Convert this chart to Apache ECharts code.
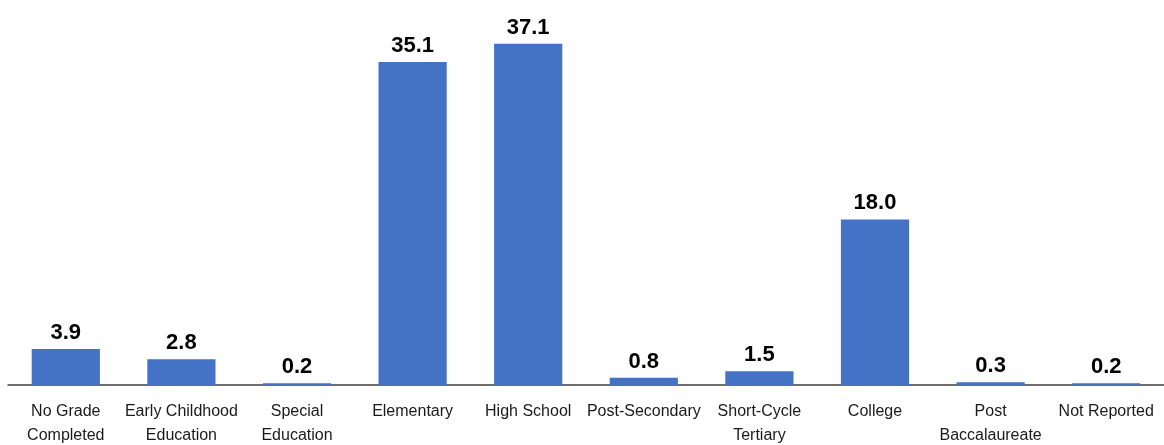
<!DOCTYPE html>
<html>
<head>
<meta charset="utf-8">
<script src="https://cdn.jsdelivr.net/npm/echarts@6/dist/echarts.min.js"></script>
<style>
  html, body { margin: 0; padding: 0; background: #fff; }
  #chart { width: 1164px; height: 445px; }
</style>
</head>
<body>
<div id="chart"></div>
<script>
// categories and values
const categories = ['No Grade\nCompleted', 'Early Childhood\nEducation', 'Special\nEducation', 'Elementary',
  'High School', 'Post-Secondary', 'Short-Cycle\nTertiary', 'College', 'Post\nBaccalaureate', 'Not Reported'];
const shares = [3.9, 2.8, 0.2, 35.1, 37.1, 0.8, 1.5, 18.0, 0.3, 0.2];

const font = '"Liberation Sans Narrow", "Arial Narrow", "Liberation Sans", Arial, sans-serif';

let myChart = echarts.init(document.getElementById('chart'));
myChart.setOption({
  animation: false,
  grid: { left: 8, right: 0, top: 17, bottom: 60, outerBoundsMode: 'none' },
  xAxis: {
    type: 'category',
    data: categories,
    axisLine: { lineStyle: { color: '#404040', width: 1.5 } },
    axisTick: { show: false },
    axisLabel: {
      interval: 0,
      color: '#1a1a1a',
      fontFamily: font,
      fontSize: 16,
      lineHeight: 24,
      margin: 15
    }
  },
  yAxis: {
    type: 'value',
    min: 0,
    max: 40,
    show: false
  },
  series: [{
    type: 'bar',
    data: shares,
    barWidth: '59%',
    itemStyle: { color: '#4472C4' },
    label: {
      show: true,
      position: 'top',
      distance: 5,
      formatter: p => p.value.toFixed(1),
      color: '#000',
      fontFamily: font,
      fontWeight: 'bold',
      fontSize: 22
    }
  }]
});
</script>
</body>
</html>
